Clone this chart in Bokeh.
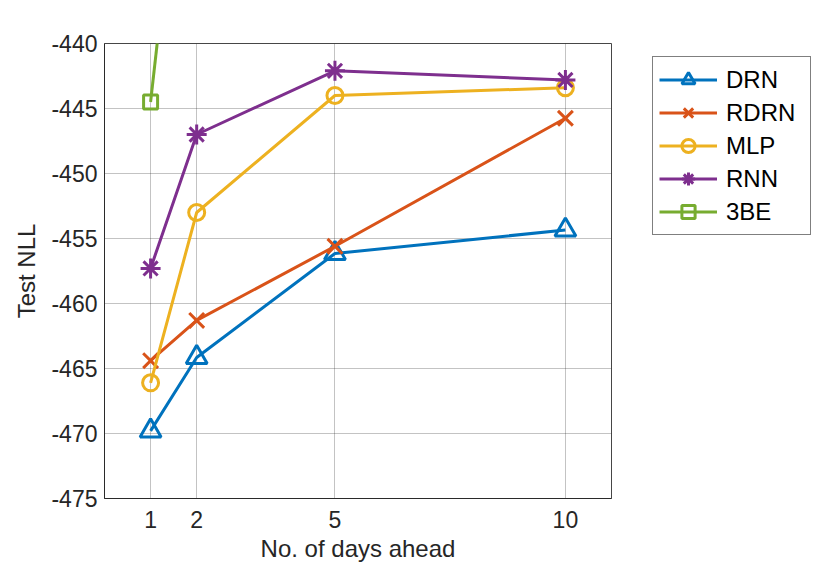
from bokeh.plotting import figure
from bokeh.models import Legend, LegendItem, Range1d, FixedTicker
from bokeh.embed import file_html
from bokeh.resources import INLINE

days = [1, 2, 5, 10]
drn = [-469.8, -464.15, -456.15, -454.35]
rdrn = [-464.4, -461.3, -455.6, -445.75]
mlp = [-466.1, -453.0, -444.0, -443.4]
rnn = [-457.3, -447.0, -442.1, -442.8]
be3_days = [1, 2]
be3 = [-444.5, -413.0]

x_ticks = [1, 2, 5, 10]
y_ticks = [-475, -470, -465, -460, -455, -450, -445, -440]

FONT = "Liberation Sans"
TXT = "#262626"

p = figure(frame_width=507, frame_height=455,
           min_border_left=104, min_border_right=211,
           min_border_top=43, min_border_bottom=64,
           x_range=Range1d(0, 11), y_range=Range1d(-475, -440),
           output_backend="svg", toolbar_location=None,
           background_fill_color="white", border_fill_color="white")

p.outline_line_color = TXT
p.outline_line_width = 1
p.outline_line_alpha = 0.85

for ax in (p.xaxis[0], p.yaxis[0]):
    ax.major_label_text_font = FONT
    ax.major_label_text_font_size = "23px"
    ax.major_label_text_color = TXT
    ax.axis_label_text_font = FONT
    ax.axis_label_text_font_size = "24px"
    ax.axis_label_text_font_style = "normal"
    ax.axis_label_text_color = TXT
    ax.axis_line_color = TXT
    ax.axis_line_alpha = 0.85
    ax.major_tick_in = 0
    ax.major_tick_out = 0
    ax.minor_tick_in = 0
    ax.minor_tick_out = 0

p.xaxis.ticker = FixedTicker(ticks=x_ticks)
p.yaxis.ticker = FixedTicker(ticks=y_ticks)
p.yaxis.major_label_overrides = {t: str(t) for t in y_ticks}
p.xaxis.major_label_overrides = {t: str(t) for t in x_ticks}
p.xaxis.axis_label = "No. of days ahead"
p.yaxis.axis_label = "Test NLL"
p.xaxis.major_label_standoff = 12
p.xaxis.axis_label_standoff = 4
p.yaxis.major_label_standoff = 7
p.yaxis.axis_label_standoff = 8

p.xgrid.ticker = FixedTicker(ticks=x_ticks)
p.ygrid.ticker = FixedTicker(ticks=y_ticks)
for g in (p.xgrid[0], p.ygrid[0]):
    g.grid_line_color = TXT
    g.grid_line_alpha = 0.28
    g.grid_line_width = 1

series = [
    ("DRN", days, drn, "#0072BD", "triangle", 21),
    ("RDRN", days, rdrn, "#D95319", "x", 21),
    ("MLP", days, mlp, "#EDB120", "circle", 16),
    ("RNN", days, rnn, "#7E2F8E", "asterisk", 20),
    ("3BE", be3_days, be3, "#77AC30", "square", 14),
]

items = []
for name, xs, ys, col, mk, sz in series:
    lr = p.line(xs, ys, line_color=col, line_width=3)
    sr = p.scatter(xs, ys, marker=mk, size=sz, line_color=col,
                   fill_color=None, line_width=3)
    items.append(LegendItem(label=name, renderers=[lr, sr]))

legend = Legend(items=items, location=(41, 263))
legend.label_text_font = FONT
legend.label_text_font_size = "24px"
legend.label_text_color = "#000000"
legend.glyph_width = 58
legend.glyph_height = 33
legend.label_height = 33
legend.label_width = 78
legend.label_standoff = 9
legend.spacing = 0
legend.padding = 6
legend.margin = 0
legend.border_line_color = "#000000"
legend.border_line_width = 1
legend.background_fill_color = "white"
legend.background_fill_alpha = 1.0
p.add_layout(legend, "right")

open("out.html", "w").write(file_html(p, INLINE))
